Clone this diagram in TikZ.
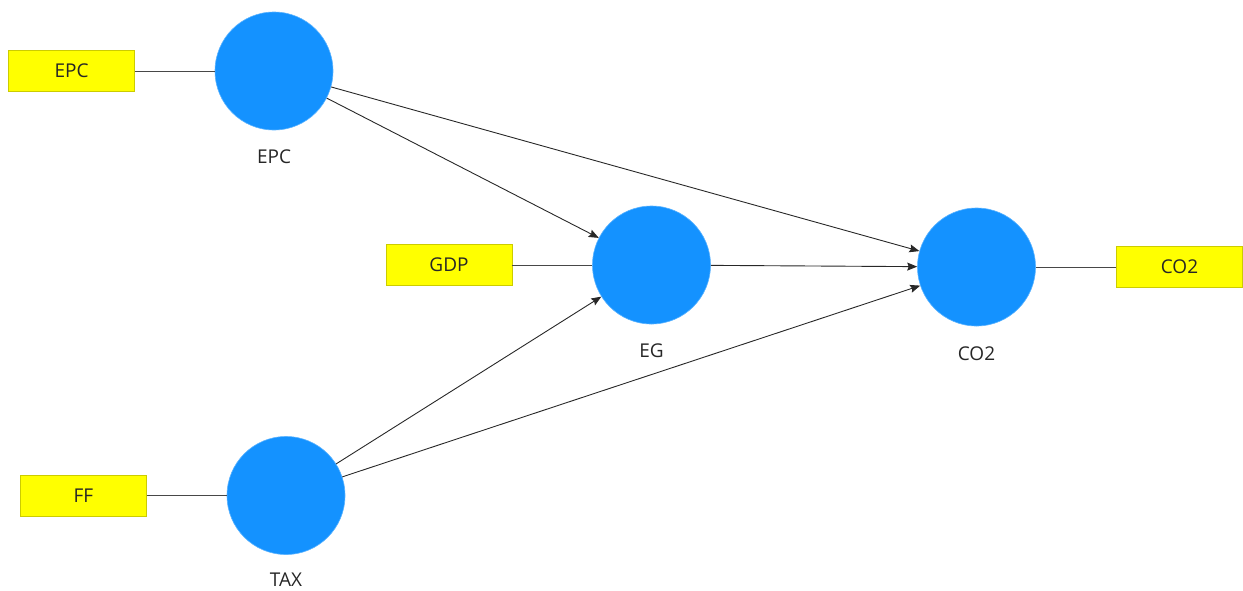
\documentclass[tikz,border=0pt]{standalone}
\usepackage{fontspec}
\setmainfont{Open Sans}
\usetikzlibrary{arrows.meta}
\definecolor{lvblue}{RGB}{20,146,255}
\definecolor{mvyellow}{RGB}{255,255,0}
\definecolor{mvborder}{RGB}{204,204,0}
\definecolor{linkgray}{RGB}{40,40,40}
\tikzset{
  latent/.style={circle, fill=lvblue, draw=lvblue!70!white, line width=0.6pt,
    minimum size=118pt, inner sep=0pt},
  indicator/.style={rectangle, fill=mvyellow, draw=mvborder, line width=0.8pt,
    minimum width=126pt, minimum height=41pt, inner sep=0pt,
    font=\fontsize{19}{21}\selectfont, text=black!85},
  lvlabel/.style={font=\fontsize{19}{21}\selectfont, text=black!85, inner sep=0pt},
  loading/.style={draw=linkgray!85, line width=1pt},
  path/.style={draw=linkgray, line width=0.9pt,
    -{Stealth[length=10pt,width=8pt,inset=1.5pt]}}
}
\begin{document}
\begin{tikzpicture}[x=1pt,y=-1pt]
  \useasboundingbox (0,0) rectangle (1243,590);

  % latent variables
  \node[latent] (epc) at (274,71) {};
  \node[latent] (eg)  at (651.5,265) {};
  \node[latent] (co2) at (976.5,267) {};
  \node[latent] (tax) at (286,495.5) {};

  % latent variable names
  \node[lvlabel] (epcl) at (274,157) {EPC};
  \node[lvlabel] (egl)  at (651.5,351) {EG};
  \node[lvlabel] (co2l) at (976.5,354) {CO2};
  \node[lvlabel] (taxl) at (286,580) {TAX};

  % indicators
  \node[indicator] (epcm) at (71.5,71)   {EPC};
  \node[indicator] (gdpm) at (449,265)   {GDP};
  \node[indicator] (ffm)  at (83.5,495.5)  {FF};
  \node[indicator] (co2m) at (1179.5,267) {CO2};

  % outer model
  \draw[loading] (epcm) -- (epc);
  \draw[loading] (gdpm) -- (eg);
  \draw[loading] (ffm)  -- (tax);
  \draw[loading] (co2) -- (co2m);

  % inner model
  \draw[path] (epc) -- (eg);
  \draw[path] (epc) -- (co2);
  \draw[path] (eg)  -- (co2);
  \draw[path] (tax) -- (eg);
  \draw[path] (tax) -- (co2);
\end{tikzpicture}
\end{document}
